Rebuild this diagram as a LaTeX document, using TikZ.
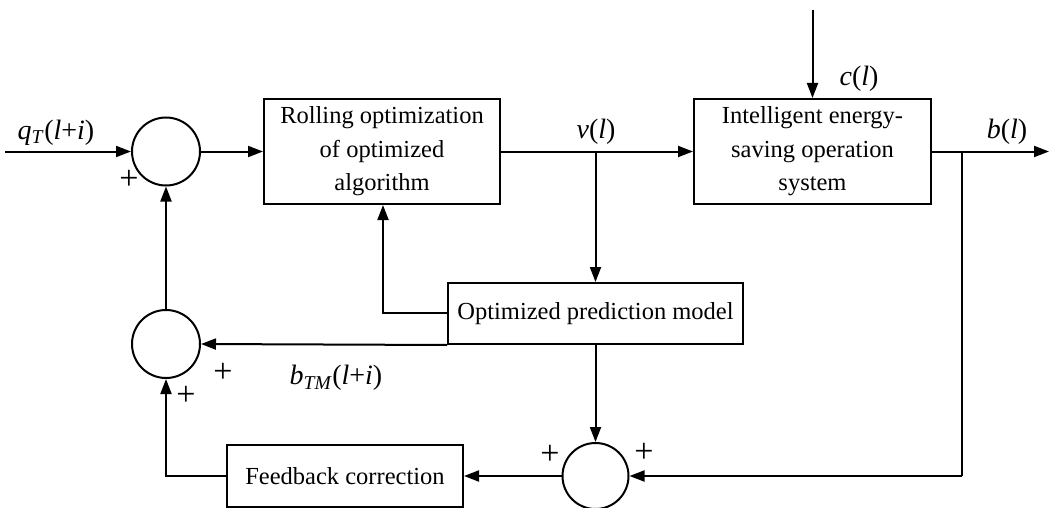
\documentclass[tikz,border=0pt]{standalone}
\usepackage{fontspec}
\setmainfont{Liberation Serif}
\usetikzlibrary{arrows.meta}
\tikzset{
  blk/.style={draw, line width=2pt, rectangle, inner sep=0pt, align=center,
    font=\fontsize{24.5}{33.5}\selectfont},
  sumc/.style={draw, line width=2pt, circle, inner sep=0pt},
  conn/.style={line width=2pt, -{Triangle[length=15pt,width=11pt]}},
  plain/.style={line width=2pt},
  sig/.style={font=\fontsize{28}{32}\selectfont, inner sep=0pt},
  pl/.style={font=\fontsize{34}{36}\selectfont, inner sep=0pt}
}
\begin{document}
\begin{tikzpicture}[x=1pt,y=-1pt]
\useasboundingbox (0,0) rectangle (1049,508);
% nodes
\node[sumc, minimum size=68pt] (s1) at (166,151.5) {};
\node[blk, minimum width=236pt, minimum height=105pt] (roll) at (382,151.5)
  {Rolling optimization\\of optimized\\algorithm};
\node[blk, minimum width=237pt, minimum height=105pt] (intel) at (812.5,151.5)
  {Intelligent energy-\\saving operation\\system};
\node[blk, minimum width=295pt, minimum height=61pt] (pred) at (595.5,313.5)
  {Optimized prediction model};
\node[sumc, minimum size=68pt] (s2) at (166,344) {};
\node[sumc, minimum size=66pt] (s3) at (595.5,476) {};
\node[blk, minimum width=236pt, minimum height=62pt] (fb) at (345,476)
  {Feedback correction};
% coordinates
\coordinate (in) at (5,151.5);
\coordinate (vb) at (595.5,151.5);
\coordinate (bb) at (962,151.5);
\coordinate (out) at (1049,151.5);
\coordinate (ctop) at (812.5,10);
\coordinate (rb) at (383,313);
\coordinate (fbc) at (166,476);
\coordinate (bbd) at (962,476);
% connectors
\draw[conn] (in) -- (s1.west);
\draw[conn] (s1.east) -- (roll.west);
\draw[conn] (roll.east) -- (intel.west);
\draw[conn] (vb) -- (pred.north);
\draw[conn] (ctop) -- (intel.north);
\draw[conn] (intel.east) -- (out);
\draw[conn] (pred.west |- rb) -- (rb) -- (rb |- roll.south);
\draw[conn] (pred.south west) -- (s2.east);
\draw[conn] (pred.south) -- (s3.north);
\draw[plain] (bb) -- (bbd);
\draw[conn] (bbd) -- (s3.east);
\draw[conn] (s3.west) -- (fb.east);
\draw[conn] (fb.west) -- (fbc) -- (s2.south);
\draw[conn] (s2.north) -- (s1.south);
% labels
\node[sig] (lq) at (56,133) {\textit{q}\textsubscript{\textit{T}}(\textit{l}+\textit{i})};
\node[sig] (lv) at (596,132) {\textit{v}(\textit{l})};
\node[sig] (lc) at (859,79) {\textit{c}(\textit{l})};
\node[sig] (lb) at (1007,132) {\textit{b}(\textit{l})};
\node[sig] (lbt) at (336,378) {\textit{b}\textsubscript{\textit{TM}}(\textit{l}+\textit{i})};
\node[pl] (p1) at (129,180) {+};
\node[pl] (p2) at (223,373) {+};
\node[pl] (p3) at (186,396) {+};
\node[pl] (p4) at (550,455) {+};
\node[pl] (p5) at (644,453) {+};
\end{tikzpicture}
\end{document}
